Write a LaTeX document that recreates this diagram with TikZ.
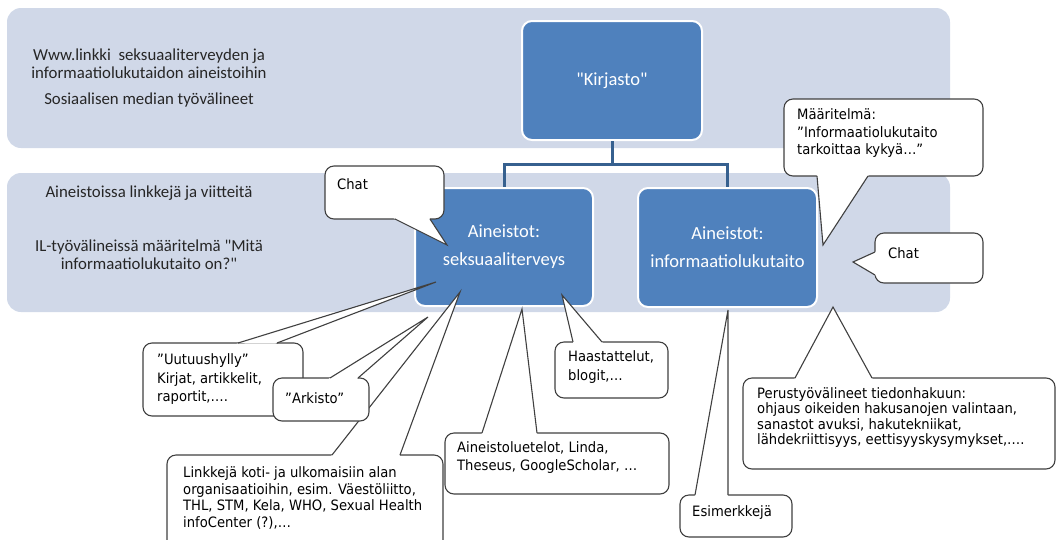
\documentclass[tikz,border=0pt]{standalone}
\usepackage{fontspec}
\setmainfont{Carlito}
\newfontfamily\callfont[FakeStretch=0.92]{DejaVu Sans}
\usetikzlibrary{calc}
\definecolor{bandgray}{HTML}{D0D8E8}
\definecolor{boxblue}{HTML}{4F81BD}
\definecolor{linkblue}{HTML}{36608F}
\definecolor{callgray}{HTML}{404040}

% callout pointer: base a, base b, tip
\newcommand\callptr[3]{%
  \fill[white] ($(#1)!-1.6pt!(#3)$) -- (#3) -- ($(#2)!-1.6pt!(#3)$) -- cycle;
  \draw[callline] (#1) -- (#3) -- (#2);}

\begin{document}
\begin{tikzpicture}[x=1pt, y=-1pt,
  bandtext/.style={text=black!85, align=center, inner sep=0pt, font=\fontsize{16.8}{18}\selectfont},
  bluebox/.style={draw=white, line width=2pt, fill=boxblue, rounded corners=10pt, text=white,
    align=center, inner sep=0pt, font=\fontsize{18.5}{28}\selectfont},
  linkline/.style={draw=linkblue, line width=3pt},
  callbox/.style={draw=callgray, line width=1.1pt, fill=white, rounded corners=9pt,
    anchor=north west, inner sep=0pt, outer sep=0pt},
  callline/.style={draw=callgray, line width=1.1pt, line join=miter},
  calltext/.style={anchor=west, align=left, inner sep=0pt, font=\callfont\fontsize{14.3}{17}\selectfont}]
  \useasboundingbox (0,0) rectangle (1058,539);
  % background bands
  \fill[bandgray, rounded corners=14pt] (7,8) rectangle (950,148);
  \fill[bandgray, rounded corners=14pt] (7,173) rectangle (950,312);
  % band texts
  \node[bandtext] (www) at (149,64) {Www.linkki\ \ seksuaaliterveyden ja\\informaatiolukutaidon aineistoihin};
  \node[bandtext] (some) at (149,100) {Sosiaalisen median työvälineet};
  \node[bandtext] (viite) at (149,193) {Aineistoissa linkkejä ja viitteitä};
  \node[bandtext] (iltool) at (149,255) {IL-työvälineissä määritelmä \textquotedbl Mitä\\informaatiolukutaito on?\textquotedbl};
  % hierarchy
  \node[bluebox, minimum width=180, minimum height=119] (kirjasto) at (612,80.5) {\textquotedbl Kirjasto\textquotedbl};
  \node[bluebox, minimum width=178, minimum height=118] (seks) at (504,247) {Aineistot:\\seksuaaliterveys};
  \node[bluebox, minimum width=179, minimum height=119] (info) at (727.5,247.5) {Aineistot:\\informaatiolukutaito};
  \draw[linkline] (kirjasto.south) -- ++(0,23) coordinate (hub) -| (seks.north);
  \draw[linkline] (hub) -| (info.north);

  % definition callout
  \node[callbox, minimum width=199, minimum height=77] (maar) at (784,99) {};
  \path (maar.south west) ++(33,0) coordinate (maara) ++(51,0) coordinate (maarb);
  \coordinate (maartip) at (823,245);
  \callptr{maara}{maarb}{maartip}
  \node[calltext, font=\callfont\fontsize{14.3}{17.5}\selectfont] (maartxt) at (797,133.5)
    {Määritelmä:\\”Informaatiolukutaito\\tarkoittaa kykyä…”};
  % chat, right
  \node[callbox, minimum width=108, minimum height=50] (chatR) at (875,233) {};
  \path (chatR.north west) ++(0,19) coordinate (chatRa) ++(0,23) coordinate (chatRb);
  \coordinate (chatRtip) at (853,262);
  \callptr{chatRa}{chatRb}{chatRtip}
  \node[calltext] (chatRtxt) at (888,253) {Chat};
  % chat, left
  \node[callbox, minimum width=119, minimum height=53] (chatL) at (325,166) {};
  \path (chatL.south west) ++(70,0) coordinate (chatLa) ++(35,0) coordinate (chatLb);
  \coordinate (chatLtip) at (447,245);
  \callptr{chatLa}{chatLb}{chatLtip}
  \node[calltext] (chatLtxt) at (337,184) {Chat};
  % links
  \node[callbox, minimum width=276, minimum height=100] (link) at (167,455) {};
  \path (link.north west) ++(165,0) coordinate (linka) ++(68,0) coordinate (linkb);
  \coordinate (linktip) at (460,292);
  \callptr{linka}{linkb}{linktip}
  \node[calltext, font=\callfont\fontsize{14.3}{16.7}\selectfont] (linktxt) at (183,498)
    {Linkkejä koti- ja ulkomaisiin alan\\organisaatioihin, esim. Väestöliitto,\\THL, STM, Kela, WHO, Sexual Health\\infoCenter (?),…};
  % catalogues
  \node[callbox, minimum width=224, minimum height=61] (luet) at (445,433) {};
  \path (luet.north west) ++(37,0) coordinate (lueta) ++(55,0) coordinate (luetb);
  \coordinate (luettip) at (522,309);
  \callptr{lueta}{luetb}{luettip}
  \node[calltext, font=\callfont\fontsize{14.3}{18}\selectfont] (luettxt) at (457,458)
    {Aineistoluetelot, Linda,\\Theseus, GoogleScholar, …};
  % interviews
  \node[callbox, minimum width=113, minimum height=56] (haas) at (555,342) {};
  \path (haas.north west) ++(18,0) coordinate (haasa) ++(29,0) coordinate (haasb);
  \coordinate (haastip) at (562,295);
  \callptr{haasa}{haasb}{haastip}
  \node[calltext, font=\callfont\fontsize{14.3}{19}\selectfont] (haastxt) at (568,367.5)
    {Haastattelut,\\blogit,…};
  % examples
  \node[callbox, minimum width=112, minimum height=42] (esim) at (680,495) {};
  \path (esim.north west) ++(15,0) coordinate (esima) ++(33,0) coordinate (esimb);
  \coordinate (esimtip) at (728,310);
  \callptr{esima}{esimb}{esimtip}
  \node[calltext] (esimtxt) at (692,513) {Esimerkkejä};
  % basic tools
  \node[callbox, minimum width=312, minimum height=91] (peru) at (743,378) {};
  \path (peru.north west) ++(52,0) coordinate (perua) ++(77,0) coordinate (perub);
  \coordinate (perutip) at (833,307);
  \callptr{perua}{perub}{perutip}
  \node[calltext, font=\callfont\fontsize{14.3}{15.3}\selectfont] (perutxt) at (757,417.5)
    {Perustyövälineet tiedonhakuun:\\ohjaus oikeiden hakusanojen valintaan,\\sanastot avuksi, hakutekniikat,\\lähdekriittisyys, eettisyyskysymykset,….};
  % new arrivals
  \node[callbox, minimum width=160, minimum height=73] (uutu) at (143,343) {};
  \path (uutu.north west) ++(95,0) coordinate (uutua) ++(39,0) coordinate (uutub);
  \coordinate (uututip) at (436,282);
  \callptr{uutua}{uutub}{uututip}
  \node[calltext, font=\callfont\fontsize{14.3}{18.5}\selectfont] (uututxt) at (157,379.5)
    {”Uutuushylly”\\Kirjat, artikkelit,\\raportit,….};
  % archive
  \node[callbox, minimum width=96, minimum height=43] (ark) at (273,378) {};
  \path (ark.north west) ++(57,0) coordinate (arka) ++(28,0) coordinate (arkb);
  \coordinate (arktip) at (428,317);
  \callptr{arka}{arkb}{arktip}
  \node[calltext] (arktxt) at (285,398) {”Arkisto”};
\end{tikzpicture}
\end{document}
